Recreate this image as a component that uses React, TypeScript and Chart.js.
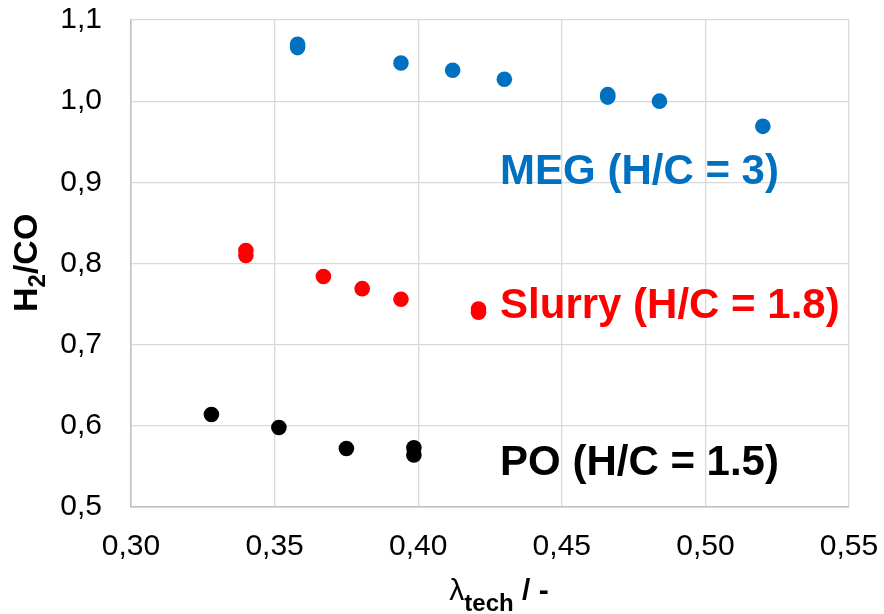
import React, { useEffect, useRef } from "react";
import { Chart, registerables } from "chart.js";

Chart.register(...registerables);

// Syngas H2/CO ratio against technical air ratio for three feedstocks
const megLambda = [0.358, 0.358, 0.394, 0.412, 0.43, 0.466, 0.466, 0.484, 0.52];
const megRatio = [1.07, 1.066, 1.047, 1.038, 1.027, 1.008, 1.005, 1.0, 0.969];

const slurryLambda = [0.34, 0.34, 0.367, 0.3805, 0.394, 0.421, 0.421];
const slurryRatio = [0.816, 0.81, 0.784, 0.769, 0.756, 0.744, 0.74];

const poLambda = [0.328, 0.3515, 0.375, 0.3985, 0.3985];
const poRatio = [0.614, 0.598, 0.572, 0.573, 0.564];

const seriesNames = ["MEG (H/C = 3)", "Slurry (H/C = 1.8)", "PO (H/C = 1.5)"];
const seriesColors = ["#0070C0", "#FF0000", "#000000"];

// where each series name is written (data units, left edge / baseline)
const nameAnchorX = [0.4285, 0.4285, 0.4285];
const nameAnchorY = [0.898, 0.7323, 0.5394];

const xTickValues = [0.3, 0.35, 0.4, 0.45, 0.5, 0.55];
const xTickLabels = ["0,30", "0,35", "0,40", "0,45", "0,50", "0,55"];
const yTickValues = [0.5, 0.6, 0.7, 0.8, 0.9, 1.0, 1.1];
const yTickLabels = ["0,5", "0,6", "0,7", "0,8", "0,9", "1,0", "1,1"];

const FONT = '"Liberation Sans", Arial, Helvetica, sans-serif';

const toPoints = (xs: number[], ys: number[]) => xs.map((x, i) => ({ x, y: ys[i] }));

const zeroPadding = (scale: any) => {
  scale.paddingTop = 0;
  scale.paddingBottom = 0;
  scale.paddingLeft = 0;
  scale.paddingRight = 0;
};

const seriesNamePlugin = {
  id: "seriesNames",
  afterDatasetsDraw(chart: any) {
    const { ctx, scales } = chart;
    const xs = scales.x;
    const ys = scales.y;
    ctx.save();
    ctx.font = `bold 42px ${FONT}`;
    ctx.textAlign = "left";
    ctx.textBaseline = "alphabetic";
    seriesNames.forEach((name, i) => {
      ctx.fillStyle = seriesColors[i];
      ctx.fillText(name, xs.getPixelForValue(nameAnchorX[i]), ys.getPixelForValue(nameAnchorY[i]));
    });
    ctx.restore();
  },
};

const axisTitlePlugin = {
  id: "axisTitles",
  afterDraw(chart: any) {
    const { ctx, chartArea } = chart;
    ctx.save();
    ctx.fillStyle = "#000000";
    ctx.textAlign = "left";
    ctx.textBaseline = "alphabetic";

    // x title: λ_tech / -
    const lam = "λ";
    const sub = "tech";
    const rest = " / -";
    const fLam = `30px ${FONT}`;
    const fSub = `bold 24px ${FONT}`;
    const fRest = `bold 30px ${FONT}`;
    ctx.font = fLam;
    const wLam = ctx.measureText(lam).width;
    ctx.font = fSub;
    const wSub = ctx.measureText(sub).width;
    ctx.font = fRest;
    const wRest = ctx.measureText(rest).width;
    const total = wLam + wSub + wRest;
    const cx = (chartArea.left + chartArea.right) / 2 + 9;
    let px = cx - total / 2;
    const base = 600;
    ctx.font = fLam;
    ctx.fillText(lam, px, base);
    px += wLam;
    ctx.font = fSub;
    ctx.fillText(sub, px, base + 11);
    px += wSub;
    ctx.font = fRest;
    ctx.fillText(rest, px, base);

    // y title: H2/CO, rotated
    ctx.translate(37, 312);
    ctx.rotate(-Math.PI / 2);
    const fMain = `bold 34px ${FONT}`;
    const fTwo = `bold 24px ${FONT}`;
    let ty = 0;
    ctx.font = fMain;
    ctx.fillText("H", ty, 0);
    ty += ctx.measureText("H").width;
    ctx.font = fTwo;
    ctx.fillText("2", ty, 8);
    ty += ctx.measureText("2").width;
    ctx.font = fMain;
    ctx.fillText("/CO", ty, 0);
    ctx.restore();
  },
};

export default function App() {
  const canvasRef = useRef<HTMLCanvasElement | null>(null);

  useEffect(() => {
    const canvas = canvasRef.current;
    if (!canvas) return;
    const chart = new Chart(canvas, {
      type: "scatter",
      data: {
        datasets: [
          { label: seriesNames[0], data: toPoints(megLambda, megRatio), backgroundColor: seriesColors[0] },
          { label: seriesNames[1], data: toPoints(slurryLambda, slurryRatio), backgroundColor: seriesColors[1] },
          { label: seriesNames[2], data: toPoints(poLambda, poRatio), backgroundColor: seriesColors[2] },
        ].map((d) => ({ ...d, pointRadius: 7.8, pointHoverRadius: 7.8, borderWidth: 0, pointBorderWidth: 0 })),
      },
      options: {
        animation: false,
        responsive: false,
        devicePixelRatio: 1,
        layout: { autoPadding: false, padding: { top: 20, right: 35, left: 0, bottom: 0 } },
        plugins: { legend: { display: false }, tooltip: { enabled: false }, title: { display: false } },
        scales: {
          x: {
            type: "linear",
            min: 0.3,
            max: 0.55,
            afterBuildTicks: (axis: any) => {
              axis.ticks = xTickValues.map((value) => ({ value }));
            },
            afterFit: (scale: any) => {
              scale.height = 107;
              zeroPadding(scale);
            },
            ticks: {
              callback: (_v: any, i: number) => xTickLabels[i],
              font: { family: FONT, size: 30 },
              color: "#000000",
              padding: 22,
              maxRotation: 0,
              autoSkip: false,
            },
            grid: { color: "#D9D9D9", lineWidth: 1.3, drawTicks: false },
            border: { color: "#BFBFBF", width: 1.5 },
          },
          y: {
            type: "linear",
            min: 0.5,
            max: 1.1,
            afterBuildTicks: (axis: any) => {
              axis.ticks = yTickValues.map((value) => ({ value }));
            },
            afterFit: (scale: any) => {
              scale.width = 131;
              zeroPadding(scale);
            },
            ticks: {
              callback: (_v: any, i: number) => yTickLabels[i],
              font: { family: FONT, size: 30 },
              color: "#000000",
              padding: 29,
              autoSkip: false,
            },
            grid: { color: "#D9D9D9", lineWidth: 1.3, drawTicks: false },
            border: { color: "#BFBFBF", width: 1.5 },
          },
        },
      },
      plugins: [seriesNamePlugin, axisTitlePlugin],
    });
    return () => chart.destroy();
  }, []);

  return (
    <div style={{ position: "fixed", left: 0, top: 0, width: 884, height: 614, background: "#ffffff" }}>
      <canvas ref={canvasRef} width={884} height={614} style={{ display: "block", width: 884, height: 614 }} />
    </div>
  );
}
